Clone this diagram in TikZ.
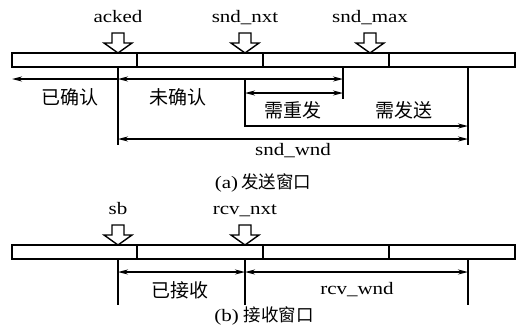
\documentclass[tikz,border=0pt]{standalone}
\usepackage{fontspec}
\setmainfont{Liberation Serif}[FakeStretch=1.2]
\newfontfamily\cjk{Noto Sans CJK SC}
\usetikzlibrary{arrows.meta}
\tikzset{
  bar/.style={draw, line width=1.5pt},
  vline/.style={line width=1.5pt},
  dim/.style={line width=1.5pt, {Stealth[length=10pt,width=5pt]}-{Stealth[length=10pt,width=5pt]}},
  dimr/.style={line width=1.5pt, -{Stealth[length=10pt,width=5pt]}},
  ptr/.style={draw, line width=1.4pt, fill=white},
  lbl/.style={font=\fontsize{17.5}{19}\selectfont, inner sep=0pt},
  clbl/.style={font=\fontsize{19}{21}\selectfont\cjk, inner sep=0pt},
}
\newcommand{\ptrarrow}[2]{%
  \draw[ptr] (#1-6,#2) -- (#1+6,#2) -- (#1+6,#2+10) -- (#1+14,#2+10) -- (#1,#2+20)
    -- (#1-14,#2+10) -- (#1-6,#2+10) -- cycle;}
\begin{document}
\begin{tikzpicture}[x=1pt,y=-1pt]
\useasboundingbox (0,0) rectangle (516,333);
% ---------- (a) send window ----------
\coordinate (aA) at (118,67);
\coordinate (aN) at (245,79);
\coordinate (aM) at (343,67);
\coordinate (aW) at (468,67);
\coordinate (aAe) at (118,145);
\coordinate (aNe) at (245,127);
\coordinate (aMe) at (343,99);
\coordinate (aWe) at (468,145);
\coordinate (aL) at (12,79);

\draw[bar] (12,53) rectangle (515,67);
\draw[bar] (137,53) -- (137,67);
\draw[bar] (263,53) -- (263,67);
\draw[bar] (389,53) -- (389,67);

\ptrarrow{118}{33}
\ptrarrow{245}{33}
\ptrarrow{370}{33}
\node[lbl, anchor=base] (acked) at (118,22) {acked};
\node[lbl, anchor=base] (sndnxt) at (245,22) {snd\_nxt};
\node[lbl, anchor=base] (sndmax) at (370,22) {snd\_max};

\draw[vline] (aA) -- (aAe);
\draw[vline] (aN) -- (aNe);
\draw[vline] (aM) -- (aMe);
\draw[vline] (aW) -- (aWe);

\draw[dimr] (118,79) -- (aL);
\draw[dim] (118,79) -- (343,79);
\draw[dim] (245,93) -- (343,93);
\draw[dimr] (245,126) -- (468,126);
\draw[dim] (118,139) -- (468,139);

\node[clbl] (ack) at (70,97) {已确认};
\node[clbl] (unack) at (178,97) {未确认};
\node[clbl] (resend) at (293,110) {需重发};
\node[clbl] (tosend) at (404,110) {需发送};
\node[lbl, anchor=base] (sndwnd) at (293,155) {snd\_wnd};
\node[lbl, anchor=base] (capa) at (263,188) {(a)\,{\cjk 发送窗口}};

% ---------- (b) receive window ----------
\draw[bar] (12,245) rectangle (515,259);
\draw[bar] (137,245) -- (137,259);
\draw[bar] (263,245) -- (263,259);
\draw[bar] (389,245) -- (389,259);

\ptrarrow{118}{225}
\ptrarrow{245}{225}
\node[lbl, anchor=base] (sb) at (118,214) {sb};
\node[lbl, anchor=base] (rcvnxt) at (245,214) {rcv\_nxt};

\coordinate (bS) at (118,259);
\coordinate (bN) at (245,259);
\coordinate (bW) at (468,259);
\draw[vline] (bS) -- (118,305);
\draw[vline] (bN) -- (245,305);
\draw[vline] (bW) -- (468,305);

\draw[dim] (118,272) -- (245,272);
\draw[dim] (245,272) -- (468,272);

\node[clbl] (rcvd) at (180,290) {已接收};
\node[lbl, anchor=base] (rcvwnd) at (357,294) {rcv\_wnd};
\node[lbl, anchor=base] (capb) at (264,321) {(b)\;{\cjk 接收窗口}};
\end{tikzpicture}
\end{document}
